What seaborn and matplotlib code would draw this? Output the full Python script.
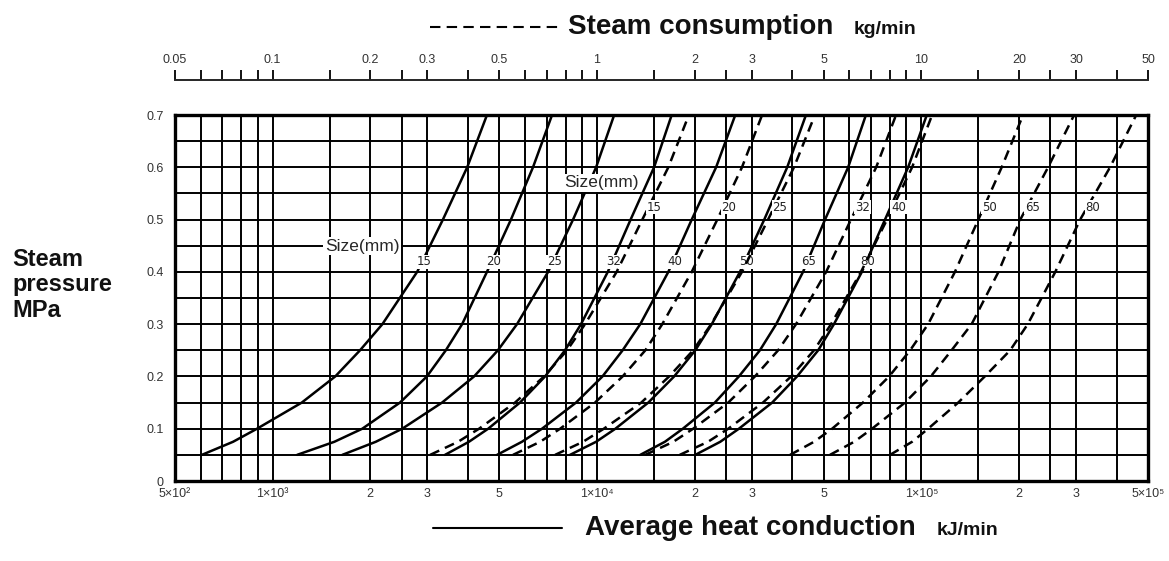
import matplotlib
matplotlib.use("Agg")
import matplotlib.pyplot as plt
from matplotlib.lines import Line2D
from matplotlib.ticker import NullFormatter
import numpy as np
import pandas as pd
import seaborn as sns

sizes = ["15", "20", "25", "32", "40", "50", "65", "80"]
pressure = [0.05, 0.075, 0.1, 0.15, 0.2, 0.25, 0.3, 0.4, 0.5, 0.6, 0.7]   # MPa

# average heat conduction, kJ/min (solid curves)
heat_15 = [605, 755, 895, 1230, 1560, 1860, 2180, 2790, 3350, 3980, 4580]
heat_20 = [1190, 1550, 1890, 2470, 2990, 3420, 3840, 4580, 5430, 6350, 7270]
heat_25 = [1640, 2080, 2510, 3330, 4180, 4950, 5670, 7070, 8440, 9940, 11300]
heat_32 = [3400, 4030, 4620, 5790, 6920, 7970, 8930, 10800, 12700, 15000, 17000]
heat_40 = [4920, 5870, 6770, 8620, 10400, 12000, 13600, 16600, 19600, 23300, 26700]
heat_50 = [8260, 9940, 11400, 14400, 17300, 20100, 22600, 27600, 32800, 38600, 44100]
heat_65 = [13600, 16200, 18400, 23100, 27400, 31800, 35700, 43200, 50500, 59500, 67500]
heat_80 = [20100, 24000, 27400, 34700, 41400, 48100, 53800, 65600, 77300, 91100, 104000]

# steam consumption, kg/min (dashed curves)
steam_15 = [0.306, 0.373, 0.433, 0.559, 0.687, 0.809, 0.919, 1.15, 1.38, 1.66, 1.92]
steam_20 = [0.551, 0.668, 0.770, 0.986, 1.20, 1.41, 1.59, 1.96, 2.35, 2.80, 3.23]
steam_25 = [0.743, 0.906, 1.05, 1.37, 1.67, 1.98, 2.25, 2.80, 3.37, 4.05, 4.70]
steam_32 = [1.41, 1.72, 1.98, 2.54, 3.07, 3.62, 4.11, 5.09, 6.07, 7.26, 8.36]
steam_40 = [1.80, 2.20, 2.54, 3.25, 3.97, 4.67, 5.27, 6.52, 7.84, 9.37, 10.8]
steam_50 = [3.94, 4.67, 5.31, 6.61, 7.96, 9.24, 10.5, 12.7, 15.0, 17.7, 20.6]
steam_65 = [5.23, 6.21, 7.05, 8.91, 10.7, 12.4, 14.3, 17.3, 20.2, 24.6, 29.6]
steam_80 = [8.01, 9.37, 10.5, 13.0, 15.7, 18.8, 21.3, 25.9, 30.9, 38.2, 46.0]

heat_curves = [heat_15, heat_20, heat_25, heat_32, heat_40, heat_50, heat_65, heat_80]
steam_curves = [steam_15, steam_20, steam_25, steam_32, steam_40, steam_50, steam_65, steam_80]

heat_grid = [500, 600, 700, 800, 900, 1000, 1500, 2000, 2500, 3000, 4000, 5000,
             6000, 7000, 8000, 9000, 10000, 15000, 20000, 25000, 30000, 40000,
             50000, 60000, 70000, 80000, 90000, 100000, 150000, 200000, 250000,
             300000, 400000, 500000]
heat_ticks = [500, 1000, 2000, 3000, 5000, 10000, 20000, 30000, 50000,
              100000, 200000, 300000, 500000]
heat_tick_labels = ["5×10²", "1×10³", "2", "3", "5", "1×10⁴", "2", "3", "5",
                    "1×10⁵", "2", "3", "5×10⁵"]
steam_grid = [0.05, 0.06, 0.07, 0.08, 0.09, 0.1, 0.15, 0.2, 0.25, 0.3, 0.4, 0.5,
              0.6, 0.7, 0.8, 0.9, 1, 1.5, 2, 2.5, 3, 4, 5, 6, 7, 8, 9, 10, 15,
              20, 25, 30, 40, 50]
steam_ticks = [0.05, 0.1, 0.2, 0.3, 0.5, 1, 2, 3, 5, 10, 20, 30, 50]
steam_tick_labels = ["0.05", "0.1", "0.2", "0.3", "0.5", "1", "2", "3", "5",
                     "10", "20", "30", "50"]
p_grid = [0, 0.05, 0.1, 0.15, 0.2, 0.25, 0.3, 0.35, 0.4, 0.45, 0.5, 0.55, 0.6, 0.65, 0.7]
p_labels = ["0", "", "0.1", "", "0.2", "", "0.3", "", "0.4", "", "0.5", "", "0.6", "", "0.7"]

sns.set_theme(style="white")
plt.rcParams["font.family"] = ["Liberation Sans", "DejaVu Sans"]


def long_table(curves, col):
    rows = []
    for size, vals in zip(sizes, curves):
        for p, v in zip(pressure, vals):
            rows.append((size, v, p))
    return pd.DataFrame(rows, columns=["size", col, "pressure"])


fig = plt.figure(figsize=(11.69, 5.61), dpi=100)
ax = fig.add_axes([0.1497, 0.1426, 0.8323, 0.6524])
ax.set_xscale("log")
ax.set_xlim(500, 500000)
ax.set_ylim(0, 0.7)

sns.lineplot(data=long_table(heat_curves, "heat"), x="heat", y="pressure",
             units="size", estimator=None, color="black", lw=1.8, ax=ax)

ax.set_xticks(heat_grid, minor=True)
ax.set_xticks(heat_ticks, heat_tick_labels)
ax.xaxis.set_minor_formatter(NullFormatter())
ax.set_yticks(p_grid, p_labels)
ax.grid(True, which="both", color="black", lw=1.4)
ax.tick_params(which="both", length=0, labelsize=9, labelcolor="#333333")
ax.tick_params(axis="x", pad=5)
ax.tick_params(axis="y", pad=8)
ax.set_xlabel("")
ax.set_ylabel("")
for s in ax.spines.values():
    s.set_visible(True)
    s.set_color("black")
    s.set_linewidth(2.4)

# steam consumption axis on top
ax2 = ax.twiny()
ax2.set_xscale("log")
ax2.set_xlim(0.05, 50)
sns.lineplot(data=long_table(steam_curves, "steam"), x="steam", y="pressure",
             units="size", estimator=None, color="black", lw=1.8,
             linestyle=(0, (4, 2.5)), ax=ax2)
ax2.set_xticks(steam_grid, minor=True)
ax2.set_xticks(steam_ticks, steam_tick_labels)
ax2.xaxis.set_minor_formatter(NullFormatter())
ax2.tick_params(which="both", direction="out", length=7, width=1.3, color="black",
                labelsize=9, labelcolor="#333333", pad=3)
ax2.spines["top"].set_position(("outward", 25))
ax2.spines["top"].set_linewidth(1.4)
for k in ["left", "right", "bottom"]:
    ax2.spines[k].set_visible(False)
ax2.set_xlabel("")
ax2.set_ylabel("")
ax2.set_ylim(0, 0.7)

# size labels
white = dict(facecolor="white", edgecolor="none", pad=0.5)
for size, vals in zip(sizes, heat_curves):
    xl = 10 ** np.interp(0.42, pressure, np.log10(vals))
    ax.annotate(size, (xl, 0.419), xytext=(1, 0), textcoords="offset points",
                ha="center", va="center", fontsize=8.5, color="#222222",
                family="DejaVu Sans", bbox=white, zorder=5)
for size, vals in zip(sizes, steam_curves):
    xl = 10 ** np.interp(0.524, pressure, np.log10(vals))
    ax2.annotate(size, (xl, 0.524), xytext=(4, 0), textcoords="offset points",
                 ha="center", va="center", fontsize=8.5, color="#222222",
                 family="DejaVu Sans", bbox=white, zorder=5)
ax.text(1886, 0.449, "Size(mm)", ha="center", va="center", fontsize=12.5,
        bbox=dict(facecolor="white", edgecolor="none", pad=1), zorder=5)
ax2.text(1.03, 0.57, "Size(mm)", ha="center", va="center", fontsize=12.5,
         bbox=dict(facecolor="white", edgecolor="none", pad=1), zorder=5)

# headings
fig.add_artist(Line2D([0.368, 0.4816], [0.952, 0.952], transform=fig.transFigure,
                      color="black", lw=1.5, linestyle=(0, (5, 3))))
fig.text(0.486, 0.952, "Steam consumption", ha="left", va="center",
         fontsize=20, fontweight="bold", color="#111111")
fig.text(0.7305, 0.948, "kg/min", ha="left", va="center",
         fontsize=14, fontweight="bold", color="#111111")
fig.add_artist(Line2D([0.370, 0.481], [0.0588, 0.0588], transform=fig.transFigure,
                      color="black", lw=1.5))
fig.text(0.5004, 0.0588, "Average heat conduction", ha="left", va="center",
         fontsize=20, fontweight="bold", color="#111111")
fig.text(0.8015, 0.055, "kJ/min", ha="left", va="center",
         fontsize=14, fontweight="bold", color="#111111")
fig.text(0.0103, 0.492, "Steam\npressure\nMPa", ha="left", va="center",
         fontsize=17, fontweight="bold", color="#111111", linespacing=1.15)

fig.savefig("out.png", dpi=100, facecolor="white")
